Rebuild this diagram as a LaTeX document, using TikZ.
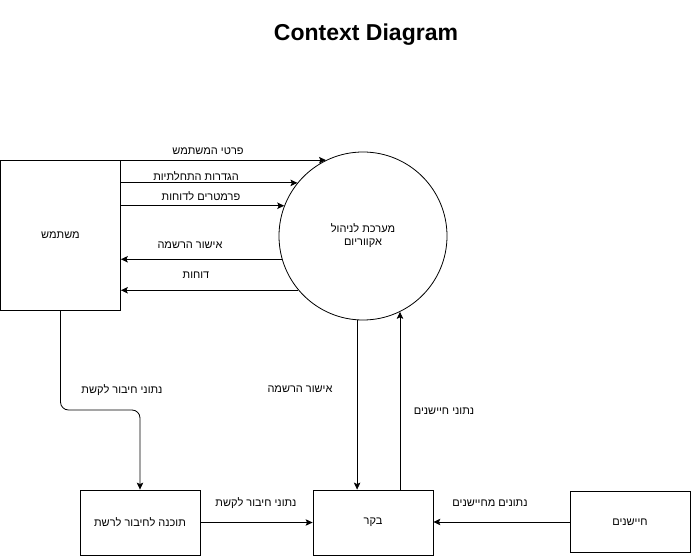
\documentclass[tikz,border=0pt]{standalone}
\usepackage{fontspec}
\setmainfont{Liberation Sans}
\newfontfamily\hebfont[Script=Hebrew]{Liberation Sans}
\TeXXeTstate=1
\newcommand\hebt[1]{{\hebfont\beginR #1\endR}}
\usetikzlibrary{arrows.meta}
\begin{document}
\begin{tikzpicture}[x=1pt,y=-1pt,
  box/.style={draw, line width=0.8pt, rectangle, inner sep=0pt, font=\fontsize{11}{13}\selectfont},
  flow/.style={line width=0.8pt, -{Stealth[length=7pt,width=6.5pt,inset=1.5pt]}},
  lbl/.style={inner sep=0pt, font=\fontsize{11}{13}\selectfont}]
\useasboundingbox (0,0) rectangle (691,556);
\node[font=\bfseries\fontsize{23}{27}\selectfont] (title) at (366,34.5) {Context Diagram};
\node[box, minimum width=120pt, minimum height=150pt] (user) at (60.5,235) {\hebt{משתמש}};
\node[draw, line width=0.8pt, circle, minimum size=168pt, inner sep=0pt, align=center, font=\fontsize{11}{13}\selectfont] (circ) at (363,236) {\hebt{מערכת לניהול}\\\hebt{אקווריום}};
\node[box, minimum width=120pt, minimum height=65pt] (net) at (140,522.5) {\hebt{תוכנה לחיבור לרשת}};
\node[box, minimum width=120pt, minimum height=65pt] (bak) at (373,522.5) {\hebt{בקר}};
\node[box, minimum width=120pt, minimum height=61pt] (sens) at (630,522) {\hebt{חיישנים}};
% user -> circle
\draw[flow] (user.east |- circ.116) -- (circ.116);
\draw[flow] (user.east |- circ.141) -- (circ.141);
\draw[flow] (user.east |- circ.159) -- (circ.159);
% circle -> user
\draw[flow] (circ.196.5) -- (user.east |- circ.196.5);
\draw[flow] (circ.220) -- (user.east |- circ.220);
\node[lbl] (l1) at (208,151) {\hebt{פרטי המשתמש}};
\node[lbl] (l2) at (196,176) {\hebt{הגדרות התחלתיות}};
\node[lbl] (l3) at (201,196) {\hebt{פרמטרים לדוחות}};
\node[lbl] (l4) at (190,245) {\hebt{אישור הרשמה}};
\node[lbl] (l5) at (196,275) {\hebt{דוחות}};
% user -> net
\coordinate (bend) at (140,410);
\draw[flow, rounded corners=8pt] (user.south) |- (bend) -- (net.north);
\node[lbl] (l6) at (122,390) {\hebt{נתוני חיבור לקשת}};
% circle <-> bak
\draw[flow] (circ.266.6) -- (circ.266.6 |- bak.north);
\draw[flow] (circ.296 |- bak.north) -- (circ.296);
\node[lbl] (l7) at (300,389) {\hebt{אישור הרשמה}};
\node[lbl] (l8) at (444,411) {\hebt{נתוני חיישנים}};
% bottom
\draw[flow] (net.east) -- (bak.west);
\node[lbl] (l9) at (256,503) {\hebt{נתוני חיבור לקשת}};
\draw[flow] (sens.west) -- (bak.east |- sens.west);
\node[lbl] (l10) at (490,503) {\hebt{נתונים מחיישנים}};
\end{tikzpicture}
\end{document}
